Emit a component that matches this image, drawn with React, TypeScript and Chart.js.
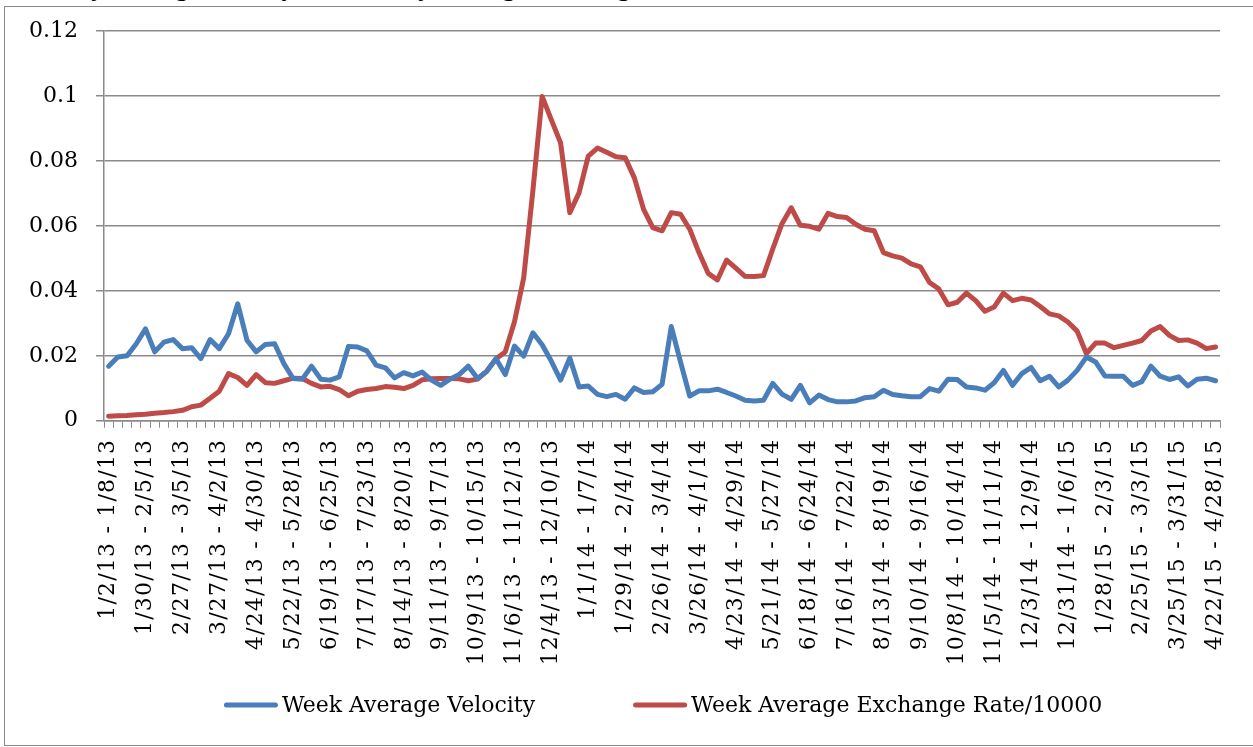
import React, { useEffect, useRef } from 'react';
import { Chart, registerables } from 'chart.js';

Chart.register(...registerables);

const weekLabels = [
  '1/2/13 - 1/8/13', '1/9/13 - 1/15/13', '1/16/13 - 1/22/13', '1/23/13 - 1/29/13',
  '1/30/13 - 2/5/13', '2/6/13 - 2/12/13', '2/13/13 - 2/19/13', '2/20/13 - 2/26/13',
  '2/27/13 - 3/5/13', '3/6/13 - 3/12/13', '3/13/13 - 3/19/13', '3/20/13 - 3/26/13',
  '3/27/13 - 4/2/13', '4/3/13 - 4/9/13', '4/10/13 - 4/16/13', '4/17/13 - 4/23/13',
  '4/24/13 - 4/30/13', '5/1/13 - 5/7/13', '5/8/13 - 5/14/13', '5/15/13 - 5/21/13',
  '5/22/13 - 5/28/13', '5/29/13 - 6/4/13', '6/5/13 - 6/11/13', '6/12/13 - 6/18/13',
  '6/19/13 - 6/25/13', '6/26/13 - 7/2/13', '7/3/13 - 7/9/13', '7/10/13 - 7/16/13',
  '7/17/13 - 7/23/13', '7/24/13 - 7/30/13', '7/31/13 - 8/6/13', '8/7/13 - 8/13/13',
  '8/14/13 - 8/20/13', '8/21/13 - 8/27/13', '8/28/13 - 9/3/13', '9/4/13 - 9/10/13',
  '9/11/13 - 9/17/13', '9/18/13 - 9/24/13', '9/25/13 - 10/1/13', '10/2/13 - 10/8/13',
  '10/9/13 - 10/15/13', '10/16/13 - 10/22/13', '10/23/13 - 10/29/13', '10/30/13 - 11/5/13',
  '11/6/13 - 11/12/13', '11/13/13 - 11/19/13', '11/20/13 - 11/26/13', '11/27/13 - 12/3/13',
  '12/4/13 - 12/10/13', '12/11/13 - 12/17/13', '12/18/13 - 12/24/13', '12/25/13 - 12/31/13',
  '1/1/14 - 1/7/14', '1/8/14 - 1/14/14', '1/15/14 - 1/21/14', '1/22/14 - 1/28/14',
  '1/29/14 - 2/4/14', '2/5/14 - 2/11/14', '2/12/14 - 2/18/14', '2/19/14 - 2/25/14',
  '2/26/14 - 3/4/14', '3/5/14 - 3/11/14', '3/12/14 - 3/18/14', '3/19/14 - 3/25/14',
  '3/26/14 - 4/1/14', '4/2/14 - 4/8/14', '4/9/14 - 4/15/14', '4/16/14 - 4/22/14',
  '4/23/14 - 4/29/14', '4/30/14 - 5/6/14', '5/7/14 - 5/13/14', '5/14/14 - 5/20/14',
  '5/21/14 - 5/27/14', '5/28/14 - 6/3/14', '6/4/14 - 6/10/14', '6/11/14 - 6/17/14',
  '6/18/14 - 6/24/14', '6/25/14 - 7/1/14', '7/2/14 - 7/8/14', '7/9/14 - 7/15/14',
  '7/16/14 - 7/22/14', '7/23/14 - 7/29/14', '7/30/14 - 8/5/14', '8/6/14 - 8/12/14',
  '8/13/14 - 8/19/14', '8/20/14 - 8/26/14', '8/27/14 - 9/2/14', '9/3/14 - 9/9/14',
  '9/10/14 - 9/16/14', '9/17/14 - 9/23/14', '9/24/14 - 9/30/14', '10/1/14 - 10/7/14',
  '10/8/14 - 10/14/14', '10/15/14 - 10/21/14', '10/22/14 - 10/28/14', '10/29/14 - 11/4/14',
  '11/5/14 - 11/11/14', '11/12/14 - 11/18/14', '11/19/14 - 11/25/14', '11/26/14 - 12/2/14',
  '12/3/14 - 12/9/14', '12/10/14 - 12/16/14', '12/17/14 - 12/23/14', '12/24/14 - 12/30/14',
  '12/31/14 - 1/6/15', '1/7/15 - 1/13/15', '1/14/15 - 1/20/15', '1/21/15 - 1/27/15',
  '1/28/15 - 2/3/15', '2/4/15 - 2/10/15', '2/11/15 - 2/17/15', '2/18/15 - 2/24/15',
  '2/25/15 - 3/3/15', '3/4/15 - 3/10/15', '3/11/15 - 3/17/15', '3/18/15 - 3/24/15',
  '3/25/15 - 3/31/15', '4/1/15 - 4/7/15', '4/8/15 - 4/14/15', '4/15/15 - 4/21/15',
  '4/22/15 - 4/28/15',
];

const weekAverageVelocity = [
  0.0168, 0.0196, 0.0200, 0.0237, 0.0283, 0.0212, 0.0242, 0.0250, 0.0222, 0.0225,
  0.0191, 0.0250, 0.0222, 0.0268, 0.0360, 0.0248, 0.0212, 0.0235, 0.0237, 0.0176,
  0.0130, 0.0128, 0.0168, 0.0128, 0.0125, 0.0135, 0.0229, 0.0227, 0.0215, 0.0171,
  0.0163, 0.0132, 0.0148, 0.0138, 0.0150, 0.0125, 0.0109, 0.0128, 0.0142, 0.0168,
  0.0130, 0.0152, 0.0191, 0.0142, 0.0230, 0.0199, 0.0271, 0.0234, 0.0183, 0.0125,
  0.0193, 0.0104, 0.0107, 0.0081, 0.0074, 0.0081, 0.0066, 0.0101, 0.0087, 0.0089,
  0.0112, 0.0290, 0.0181, 0.0076, 0.0092, 0.0092, 0.0097, 0.0087, 0.0076, 0.0063,
  0.0061, 0.0063, 0.0115, 0.0082, 0.0066, 0.0109, 0.0055, 0.0079, 0.0065, 0.0058,
  0.0058, 0.0061, 0.0071, 0.0074, 0.0094, 0.0081, 0.0077, 0.0074, 0.0074, 0.0099,
  0.0091, 0.0128, 0.0127, 0.0104, 0.0101, 0.0094, 0.0117, 0.0155, 0.0109, 0.0145,
  0.0164, 0.0123, 0.0137, 0.0104, 0.0125, 0.0155, 0.0196, 0.0181, 0.0138, 0.0137,
  0.0137, 0.0109, 0.0120, 0.0168, 0.0137, 0.0127, 0.0135, 0.0107, 0.0128, 0.0131,
  0.0123,
];

const weekAverageExchangeRate = [
  0.0014, 0.0015, 0.0016, 0.0018, 0.0020, 0.0023, 0.0025, 0.0028, 0.0032, 0.0043,
  0.0048, 0.0069, 0.0091, 0.0145, 0.0133, 0.0109, 0.0142, 0.0117, 0.0115, 0.0123,
  0.0131, 0.0130, 0.0115, 0.0104, 0.0106, 0.0096, 0.0077, 0.0091, 0.0096, 0.0099,
  0.0105, 0.0103, 0.0099, 0.0109, 0.0126, 0.0129, 0.0130, 0.0130, 0.0129, 0.0123,
  0.0128, 0.0153, 0.0191, 0.0212, 0.0305, 0.0440, 0.0710, 0.0999, 0.0927, 0.0856,
  0.0641, 0.0702, 0.0815, 0.0840, 0.0827, 0.0813, 0.0810, 0.0748, 0.0651, 0.0595,
  0.0585, 0.0641, 0.0636, 0.0590, 0.0518, 0.0454, 0.0434, 0.0495, 0.0470, 0.0445,
  0.0444, 0.0447, 0.0529, 0.0607, 0.0656, 0.0602, 0.0599, 0.0590, 0.0639, 0.0629,
  0.0626, 0.0605, 0.0590, 0.0585, 0.0518, 0.0508, 0.0501, 0.0483, 0.0474, 0.0426,
  0.0406, 0.0357, 0.0365, 0.0393, 0.0370, 0.0337, 0.0350, 0.0393, 0.0370, 0.0377,
  0.0372, 0.0352, 0.0329, 0.0323, 0.0304, 0.0276, 0.0207, 0.0239, 0.0239, 0.0225,
  0.0232, 0.0239, 0.0247, 0.0276, 0.0290, 0.0263, 0.0247, 0.0249, 0.0239, 0.0222,
  0.0227,
];

const seriesNames = ['Week Average Velocity', 'Week Average Exchange Rate/10000'];
const seriesColors = ['#4a7ebb', '#be4b48'];
const yTickLabels = ['0', '0.02', '0.04', '0.06', '0.08', '0.1', '0.12'];
const titleText = 'Weekly Average Velocity and Weekly Average Exchange Rate';

const FONT = '"DejaVu Serif", serif';
const GRID = '#8a8a8a';

// x tick labels are drawn after the datasets (ticks.z = 1) with a slight letter spacing
const spacingPlugin = {
  id: 'xLabelSpacing',
  afterDatasetsDraw(chart: any) {
    (chart.ctx as any).letterSpacing = '1.2px';
  },
};

const legendPlugin = {
  id: 'bottomLegend',
  afterDraw(chart: any) {
    const ctx = chart.ctx as CanvasRenderingContext2D;
    (ctx as any).letterSpacing = '0px';
    const area = chart.chartArea;
    ctx.save();
    ctx.font = '22px ' + FONT;
    ctx.textBaseline = 'middle';
    ctx.textAlign = 'left';
    const lineW = 54;
    const gapText = 4;
    const gapItems = 98;
    const items = chart.data.datasets.map((ds: any) => ({
      text: ds.label as string,
      color: ds.borderColor as string,
      w: ctx.measureText(ds.label).width,
    }));
    const total =
      items.reduce((s: number, it: any) => s + lineW + gapText + it.w, 0) +
      gapItems * (items.length - 1);
    let x = (area.left + area.right) / 2 + 1 - total / 2;
    const y = chart.height - 42;
    for (const it of items) {
      ctx.strokeStyle = it.color;
      ctx.lineWidth = 5;
      ctx.lineCap = 'round';
      ctx.beginPath();
      ctx.moveTo(x + 2.5, y);
      ctx.lineTo(x + lineW - 2.5, y);
      ctx.stroke();
      ctx.fillStyle = '#000';
      ctx.fillText(it.text, x + lineW + gapText, y + 1);
      x += lineW + gapText + it.w + gapItems;
    }
    ctx.restore();
  },
};

export default function App() {
  const ref = useRef<HTMLCanvasElement | null>(null);

  useEffect(() => {
    if (!ref.current) return;
    const chart = new Chart(ref.current, {
      type: 'line',
      data: {
        labels: weekLabels,
        datasets: [
          {
            label: seriesNames[0],
            data: weekAverageVelocity,
            borderColor: seriesColors[0],
            backgroundColor: seriesColors[0],
            borderWidth: 5,
            pointRadius: 0,
            tension: 0,
            borderJoinStyle: 'round',
            borderCapStyle: 'round',
          },
          {
            label: seriesNames[1],
            data: weekAverageExchangeRate,
            borderColor: seriesColors[1],
            backgroundColor: seriesColors[1],
            borderWidth: 5,
            pointRadius: 0,
            tension: 0,
            borderJoinStyle: 'round',
            borderCapStyle: 'round',
          },
        ],
      },
      options: {
        responsive: false,
        animation: false,
        layout: { padding: { left: 0, right: 22, top: 29.5, bottom: 66.3 } },
        plugins: {
          legend: { display: false },
          tooltip: { enabled: false },
          title: { display: false },
        },
        scales: {
          x: {
            type: 'category',
            offset: true,
            grid: {
              offset: true,
              drawOnChartArea: false,
              drawTicks: true,
              tickLength: 7,
              color: GRID,
              lineWidth: 1,
            },
            border: { display: true, color: GRID, width: 1.5 },
            ticks: {
              z: 1,
              autoSkip: false,
              maxRotation: 90,
              minRotation: 90,
              padding: 11,
              color: '#000',
              font: { family: FONT, size: 22 },
              callback: (_v: any, i: number) => (i % 4 === 0 ? weekLabels[i] : ''),
            },
            afterFit: (scale: any) => {
              scale.height = 260;
            },
          },
          y: {
            min: 0,
            max: 0.12,
            grid: {
              color: GRID,
              lineWidth: 1.5,
              tickLength: 8,
              drawTicks: true,
            },
            border: { display: true, color: GRID, width: 1.5 },
            ticks: {
              stepSize: 0.02,
              padding: 18,
              color: '#000',
              font: { family: FONT, size: 22 },
              callback: (_v: any, i: number) => yTickLabels[i],
            },
            afterFit: (scale: any) => {
              scale.width = 104;
            },
          },
        },
      },
      plugins: [spacingPlugin, legendPlugin],
    });
    return () => chart.destroy();
  }, []);

  return (
    <div
      style={{
        position: 'fixed',
        left: 0,
        top: 0,
        width: 1253,
        height: 747,
        overflow: 'hidden',
        background: '#fff',
      }}
    >
      <div
        style={{
          position: 'absolute',
          left: 22,
          top: -25,
          fontFamily: '"Liberation Serif", serif',
          fontWeight: 'bold',
          fontSize: 26,
          lineHeight: '26px',
          whiteSpace: 'nowrap',
          color: '#000',
        }}
      >
        {titleText}
      </div>
      <div
        style={{
          position: 'absolute',
          left: 4,
          top: 6,
          width: 1300,
          height: 740,
          border: '1.5px solid #8a8a8a',
          boxSizing: 'border-box',
        }}
      />
      <canvas
        ref={ref}
        width={1253}
        height={747}
        style={{ position: 'absolute', left: 0, top: 0, display: 'block' }}
      />
    </div>
  );
}
